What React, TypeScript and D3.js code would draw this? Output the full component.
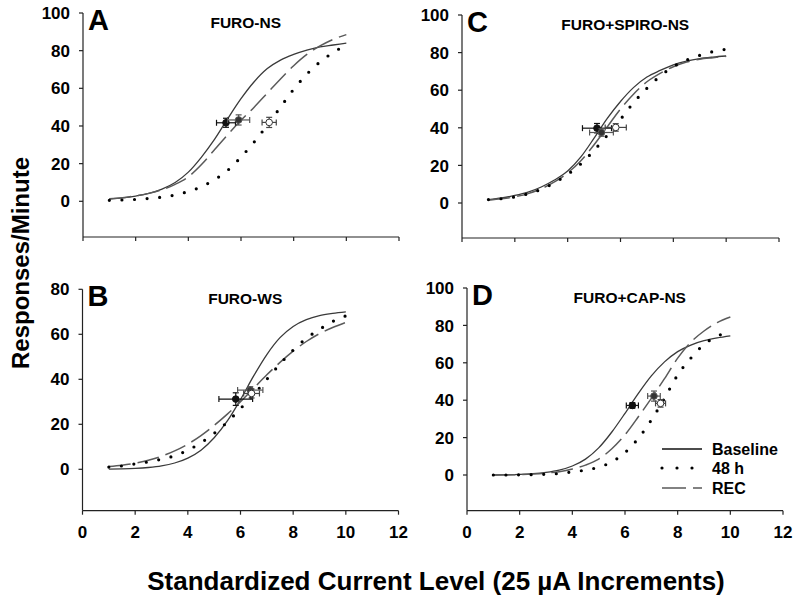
import { useEffect, useRef } from "react";
import * as d3 from "d3";

// current levels at which the fitted curves were read
const LEVELS = [1, 1.5, 2, 2.5, 3, 3.5, 4, 4.5, 5, 5.5, 6, 6.5, 7, 7.5, 8, 8.5, 9, 9.5, 10];

const A_BASELINE = [1.2, 1.8, 2.8, 4.2, 6.5, 10, 15.5, 23.5, 33, 44, 54.5, 63.5, 70.5, 75, 78, 80.3, 82, 83, 84];
const A_48H = [0.5, 0.7, 1, 1.5, 2.2, 3.4, 5.2, 7.8, 11.5, 16.5, 23.5, 31.5, 40.5, 50, 59.5, 67.5, 74, 79, 83];
const A_REC = [1.3, 1.9, 2.9, 4.2, 6.2, 9, 13, 19.5, 27.5, 35.5, 43, 50, 57.5, 65, 72, 78, 82.5, 86, 88.5];

const B_BASELINE = [0.1, 0.2, 0.4, 0.8, 1.5, 2.8, 5, 8.5, 14, 21.5, 31, 41.5, 51, 58.5, 63.5, 66.5, 68.3, 69.3, 70];
const B_48H = [1, 1.5, 2.4, 3.3, 4.5, 6, 8.5, 11.8, 16, 21, 27, 33.2, 40, 46.8, 53, 58.2, 62.2, 65.7, 68.2];
const B_REC = [1.2, 1.8, 2.7, 4, 5.8, 8.2, 11.2, 15, 19.5, 24.5, 30, 36, 42, 47.5, 52.5, 56.8, 60.3, 63, 65.3];

const C_BASELINE = [1.8, 2.7, 4, 5.8, 8.5, 12.2, 17, 24.5, 34.5, 45, 54, 61.5, 67, 70.5, 73.5, 75.5, 76.8, 77.6, 78.2];
const C_48H = [1.8, 2.3, 3.2, 4.9, 7.3, 10.8, 15.2, 20.8, 28, 36, 44.5, 53.5, 61, 67.5, 72.5, 76, 78.5, 80.5, 81.8];
const C_REC = [1.5, 2.2, 3.3, 5, 7.6, 11.2, 16, 22.5, 31, 40.5, 50, 58, 64.5, 69, 72.5, 75, 76.5, 77.3, 78];

const D_BASELINE = [0, 0.1, 0.3, 0.7, 1.4, 2.6, 4.8, 8.5, 14.5, 23, 33, 43.5, 53, 60.5, 66, 69.5, 71.8, 73.3, 74.4];
const D_48H = [0, 0, 0.1, 0.2, 0.4, 0.8, 1.7, 2.6, 4.2, 7, 12, 19.5, 29.4, 41, 53.5, 62.5, 69.8, 74.2, 76.7];
const D_REC = [0, 0.1, 0.2, 0.5, 1, 1.8, 3.2, 5.3, 8.5, 14, 21.5, 31, 41, 51.5, 62.5, 71, 77, 81.5, 84.5];

// ED50 points: [level, response, level error, response error]
const A_POINTS = { baseline: [5.43, 41.7, 0.36, 2.4], rec: [5.91, 43.2, 0.42, 2.7], h48: [7.07, 41.9, 0.27, 2.7] };
const B_POINTS = { baseline: [5.82, 31.2, 0.64, 2.8], rec: [6.37, 35.2, 0.48, 1.5], h48: [6.42, 33.7, 0.3, 2] };
const C_POINTS = { baseline: [5.11, 39.8, 0.55, 2.5], rec: [5.28, 37.5, 0.45, 2], h48: [5.82, 40.2, 0.4, 2] };
const D_POINTS = { baseline: [6.28, 37.2, 0.23, 1.5], rec: [7.1, 42.2, 0.24, 2.7], h48: [7.35, 38.3, 0.19, 2] };

const X_TICKS = [0, 2, 4, 6, 8, 10, 12];
const SERIES_LABELS = ["Baseline", "48 h", "REC"];

type Pts = { baseline: number[]; rec: number[]; h48: number[] };

interface Panel {
  letter: string;
  title: string;
  yMax: number;
  baseline: number[];
  h48: number[];
  rec: number[];
  points: Pts;
  // pixel layout
  left: number;
  right: number;
  top: number;
  zero: number;
  bottom: number;
  xLabels: boolean;
  legend: boolean;
}

const PANELS: Panel[] = [
  { letter: "A", title: "FURO-NS", yMax: 100, baseline: A_BASELINE, h48: A_48H, rec: A_REC, points: A_POINTS,
    left: 83, right: 399, top: 13, zero: 201.3, bottom: 237, xLabels: false, legend: false },
  { letter: "C", title: "FURO+SPIRO-NS", yMax: 100, baseline: C_BASELINE, h48: C_48H, rec: C_REC, points: C_POINTS,
    left: 462, right: 779, top: 15, zero: 203, bottom: 238, xLabels: false, legend: false },
  { letter: "B", title: "FURO-WS", yMax: 80, baseline: B_BASELINE, h48: B_48H, rec: B_REC, points: B_POINTS,
    left: 82.5, right: 398.5, top: 289.3, zero: 469.3, bottom: 510.7, xLabels: true, legend: false },
  { letter: "D", title: "FURO+CAP-NS", yMax: 100, baseline: D_BASELINE, h48: D_48H, rec: D_REC, points: D_POINTS,
    left: 467, right: 783, top: 288, zero: 475, bottom: 510.7, xLabels: true, legend: true },
];

const FONT = "'Liberation Sans', Arial, sans-serif";
const SOLID = { stroke: "#3a3a3a", width: 1.3, dash: "" };
const DOTS = { stroke: "#000", width: 3.2, dash: "0 12.6" };
const DASH = { stroke: "#5a5a5a", width: 1.5, dash: "22 7" };

export default function App() {
  const svgRef = useRef<SVGSVGElement>(null);

  useEffect(() => {
    if (!svgRef.current) return;
    const svg = d3.select(svgRef.current);
    svg.selectAll("*").remove();

    for (const p of PANELS) {
      const x = d3.scaleLinear().domain([0, 12]).range([p.left, p.right]);
      const y = d3.scaleLinear().domain([0, p.yMax]).range([p.zero, p.top]);
      const g = svg.append("g");

      // axes
      g.append("line").attr("x1", p.left).attr("x2", p.left).attr("y1", p.bottom).attr("y2", p.top)
        .attr("stroke", "#222").attr("stroke-width", 1.2);
      g.append("line").attr("x1", p.left).attr("x2", p.right).attr("y1", p.bottom).attr("y2", p.bottom)
        .attr("stroke", "#222").attr("stroke-width", 1.2);

      const yTicks = d3.range(0, p.yMax + 1, 20);
      g.selectAll(".yt").data(yTicks).join("line")
        .attr("x1", p.left - 4).attr("x2", p.left)
        .attr("y1", (d) => y(d)).attr("y2", (d) => y(d))
        .attr("stroke", "#222").attr("stroke-width", 1.2);
      g.selectAll(".yl").data(yTicks).join("text")
        .attr("x", p.left - 13).attr("y", (d) => y(d)).attr("dy", "0.36em")
        .attr("text-anchor", "end").attr("font-family", FONT).attr("font-weight", "bold")
        .attr("font-size", 17).text((d) => d);

      g.selectAll(".xt").data(X_TICKS).join("line")
        .attr("x1", (d) => x(d)).attr("x2", (d) => x(d))
        .attr("y1", p.bottom).attr("y2", p.bottom + 4)
        .attr("stroke", "#222").attr("stroke-width", 1.2);
      if (p.xLabels) {
        g.selectAll(".xl").data(X_TICKS).join("text")
          .attr("x", (d) => x(d)).attr("y", p.bottom + 27)
          .attr("text-anchor", "middle").attr("font-family", FONT).attr("font-weight", "bold")
          .attr("font-size", 17).text((d) => d);
      }

      // letter and title
      g.append("text").attr("x", p.left + 5).attr("y", p.top + 17).attr("font-family", FONT)
        .attr("font-weight", "bold").attr("font-size", 29).text(p.letter);
      g.append("text").attr("x", p.left + (p.right - p.left) * 0.515).attr("y", p.top + 15)
        .attr("text-anchor", "middle").attr("font-family", FONT)
        .attr("font-weight", "bold").attr("font-size", 15.5).text(p.title);

      // curves
      const line = d3.line<number>()
        .x((_, i) => x(LEVELS[i]))
        .y((d) => y(d))
        .curve(d3.curveMonotoneX);
      const curves: [number[], typeof SOLID][] = [
        [p.baseline, SOLID],
        [p.rec, DASH],
        [p.h48, DOTS],
      ];
      for (const [vals, st] of curves) {
        g.append("path").attr("d", line(vals)).attr("fill", "none")
          .attr("stroke", st.stroke).attr("stroke-width", st.width)
          .attr("stroke-dasharray", st.dash || null)
          .attr("stroke-linecap", st === DOTS ? "round" : "butt");
      }

      // ED50 points with error bars
      const marks: [number[], string, string, string][] = [
        [p.points.baseline, "#111", "#111", "#111"],
        [p.points.rec, "#333", "#555", "#555"],
        [p.points.h48, "#fff", "#333", "#444"],
      ];
      for (const [[mx, my, xe, ye], fill, stroke, bar] of marks) {
        const eg = g.append("g").attr("stroke", bar).attr("stroke-width", 1.2);
        const cx = x(mx), cy = y(my);
        const x0 = x(mx - xe), x1 = x(mx + xe);
        const y0 = y(my - ye), y1 = y(my + ye);
        eg.append("line").attr("x1", x0).attr("x2", x1).attr("y1", cy).attr("y2", cy);
        eg.append("line").attr("x1", x0).attr("x2", x0).attr("y1", cy - 3).attr("y2", cy + 3);
        eg.append("line").attr("x1", x1).attr("x2", x1).attr("y1", cy - 3).attr("y2", cy + 3);
        eg.append("line").attr("x1", cx).attr("x2", cx).attr("y1", y0).attr("y2", y1);
        eg.append("line").attr("x1", cx - 3).attr("x2", cx + 3).attr("y1", y0).attr("y2", y0);
        eg.append("line").attr("x1", cx - 3).attr("x2", cx + 3).attr("y1", y1).attr("y2", y1);
        g.append("circle").attr("cx", cx).attr("cy", cy).attr("r", 3.3)
          .attr("fill", fill).attr("stroke", stroke).attr("stroke-width", 1);
      }

      if (p.legend) {
        const styles = [SOLID, DOTS, DASH];
        const rows = [449, 468, 488];
        SERIES_LABELS.forEach((label, i) => {
          const st = styles[i];
          g.append("line").attr("x1", 662).attr("x2", 702).attr("y1", rows[i]).attr("y2", rows[i])
            .attr("stroke", i === 0 ? "#111" : st.stroke).attr("stroke-width", st.width)
            .attr("stroke-dasharray", i === 1 ? "0 15" : i === 2 ? "24 7" : null)
            .attr("stroke-linecap", i === 1 ? "round" : "butt");
          g.append("text").attr("x", 712).attr("y", rows[i]).attr("dy", "0.36em")
            .attr("font-family", FONT).attr("font-weight", "bold").attr("font-size", 16).text(label);
        });
      }
    }

    // axis titles
    svg.append("text").attr("transform", "translate(29,263) rotate(-90)")
      .attr("text-anchor", "middle").attr("font-family", FONT).attr("font-weight", "bold")
      .attr("font-size", 24).text("Responses/Minute");
    svg.append("text").attr("x", 436).attr("y", 590)
      .attr("text-anchor", "middle").attr("font-family", FONT).attr("font-weight", "bold")
      .attr("font-size", 26).text("Standardized Current Level (25 µA Increments)");
  }, []);

  return (
    <svg ref={svgRef} width={800} height={602}
      style={{ position: "absolute", left: 0, top: 0, background: "#fff" }} />
  );
}
